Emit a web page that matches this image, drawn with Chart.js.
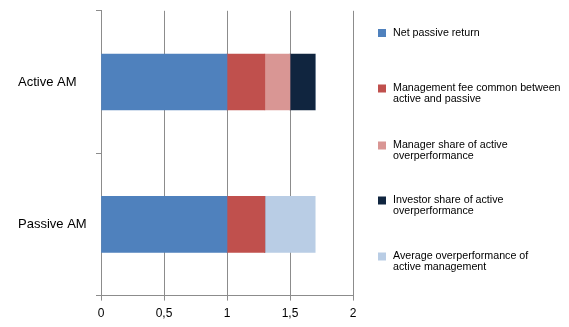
<!DOCTYPE html>
<html>
<head>
<meta charset="utf-8">
<script src="https://cdn.jsdelivr.net/npm/chart.js@4"></script>
<style>
  html, body { margin: 0; padding: 0; background: #fff; }
  #wrap { width: 569px; height: 327px; position: relative; }
</style>
</head>
<body>
<div id="wrap"><canvas id="chart"></canvas></div>
<script>
var categories = ["Active AM", "Passive AM"];
var seriesNames = [
  "Net passive return",
  "Management fee common between active and passive",
  "Manager share of active overperformance",
  "Investor share of active overperformance",
  "Average overperformance of active management"
];
// legend text as it wraps in the picture
var legendLines = [
  ["Net passive return"],
  ["Management fee common between", "active and passive"],
  ["Manager share of active", "overperformance"],
  ["Investor share of active", "overperformance"],
  ["Average overperformance of", "active management"]
];
var netPassive = [1, 1];
var mgmtFee = [0.3, 0.3];
var managerShare = [0.2, 0];
var investorShare = [0.2, 0];
var avgOver = [0, 0.4];
var xTicks = [0, 0.5, 1, 1.5, 2];

var colors = ["#4F81BD", "#C0504D", "#D99694", "#10253F", "#B9CDE5"];
var seriesValues = [netPassive, mgmtFee, managerShare, investorShare, avgOver];

Chart.defaults.font.family = "'Liberation Sans', Arial, sans-serif";
Chart.defaults.color = "#000";

var sideLegend = {
  id: 'sideLegend',
  afterDraw: function(chart) {
    var ctx = chart.ctx;
    var tops = [33, 94, 151, 206, 262];
    ctx.save();
    ctx.font = "10.7px 'Liberation Sans', Arial, sans-serif";
    ctx.textBaseline = 'middle';
    ctx.textAlign = 'left';
    chart.data.datasets.forEach(function(ds, i) {
      var lines = legendLines[i];
      var y0 = tops[i] - (lines.length - 1) * 5.5;
      ctx.fillStyle = ds.backgroundColor;
      ctx.fillRect(378, y0 - 4, 8, 8);
      ctx.fillStyle = '#000';
      lines.forEach(function(t, k) {
        ctx.fillText(t, 393, y0 + k * 11);
      });
    });
    ctx.restore();
  }
};

var data = {
  labels: categories,
  datasets: seriesNames.map(function(name, i) {
    return {
      label: name,
      data: seriesValues[i],
      backgroundColor: colors[i],
      borderWidth: 0,
      barThickness: 56
    };
  })
};

var options = {
  indexAxis: 'y',
  responsive: false,
  animation: false,
  layout: { padding: { left: 18, right: 216, top: 8, bottom: 0 } },
  plugins: {
    legend: { display: false },
    tooltip: { enabled: false }
  },
  scales: {
    x: {
      stacked: true,
      min: 0,
      max: 2,
      afterBuildTicks: function(scale) {
        scale.ticks = xTicks.map(function(v) { return { value: v }; });
      },
      ticks: {
        font: { size: 12 },
        padding: 6,
        callback: function(v) { return String(v).replace('.', ','); }
      },
      grid: { color: '#8c8c8c', tickLength: 5 },
      border: { color: '#8c8c8c' }
    },
    y: {
      stacked: true,
      afterFit: function(scale) { scale.width = 83; },
      ticks: { font: { size: 13 }, crossAlign: 'far' },
      grid: { offset: true, drawOnChartArea: false, tickLength: 5, color: '#8c8c8c' },
      border: { color: '#8c8c8c' }
    }
  }
};

var c = document.getElementById('chart');
c.width = 569;
c.height = 327;
new Chart(c, { type: 'bar', data: data, options: options, plugins: [sideLegend] });
</script>
</body>
</html>
